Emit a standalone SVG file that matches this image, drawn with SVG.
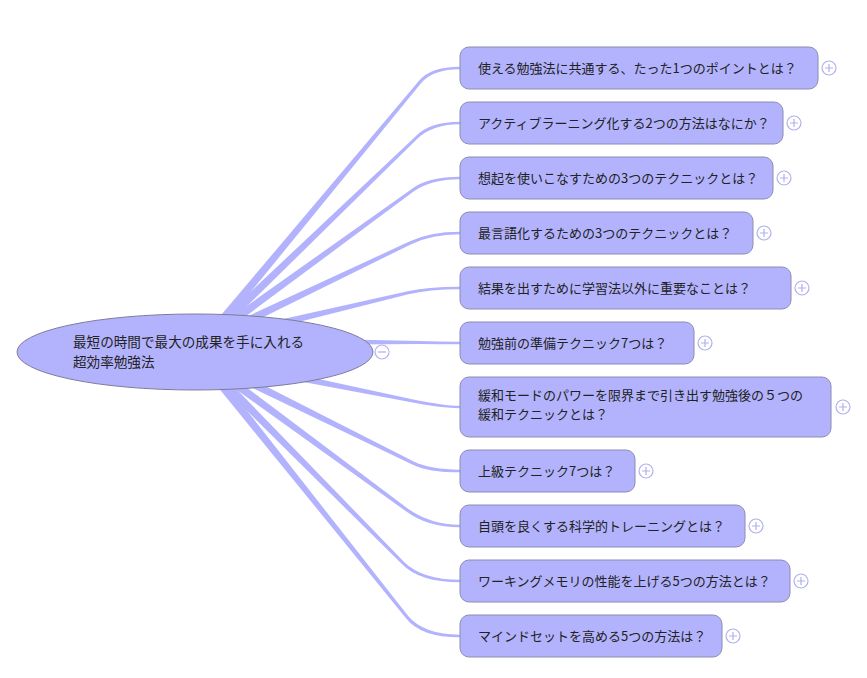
<svg xmlns="http://www.w3.org/2000/svg" width="867" height="678" viewBox="0 0 867 678">
<style>
.c{fill:#b3b3fd;stroke:none}
.n rect{fill:#b3b3fd;stroke:#8c8cb4;stroke-width:1}
.t{font-family:"Noto Sans CJK JP","Noto Sans",sans-serif;font-size:13px;fill:#222}
.rt{font-family:"Noto Sans CJK JP","Noto Sans",sans-serif;font-size:13.6px;fill:#222}
.tg circle{fill:#fff;stroke:#b0b0ee;stroke-width:1.2}
.tg path{stroke:#b0b0ee;stroke-width:1.2;fill:none}
</style>
<rect width="867" height="678" fill="#fff"/>
<g id="connectors">
<path class="c" d="M201.6,338.1 L418.8,81.1 Q430.1,66.7 460,66.7 L460,69.3 Q433.1,69.3 421.2,83 L208.4,343.9 Z"/>
<path class="c" d="M201.8,337.7 L416,135.9 Q430,121.7 460,121.7 L460,124.3 Q433,124.3 418.1,138.1 L208.2,344.3 Z"/>
<path class="c" d="M202.4,337.4 L412.1,188.7 Q428,176.7 460,176.7 L460,179.3 Q431,179.3 413.9,191.3 L207.6,344.6 Z"/>
<path class="c" d="M203,336.9 L409.3,241.6 Q429.4,231.7 460,231.7 L460,234.3 Q432.4,234.3 410.7,244.4 L207,345.1 Z"/>
<path class="c" d="M204,336.6 L406.6,291.5 Q426.5,286.7 460,286.7 L460,289.3 Q429.5,289.3 407.4,294.6 L206,345.4 Z"/>
<path class="c" d="M205,336.5 L420,341 Q440,341.7 460,341.7 L460,344.3 Q440,344.3 420,344 L205,345.5 Z"/>
<path class="c" d="M201,353.6 L413.3,399.4 Q444.2,405.7 460,405.7 L460,408.3 Q441.2,408.3 412.7,402.6 L199,362.4 Z"/>
<path class="c" d="M202,353.9 L413.7,461.6 Q430.7,469.7 460,469.7 L460,472.3 Q427.7,472.3 412.3,464.4 L198,362.1 Z"/>
<path class="c" d="M202.7,354.4 L408,508.8 Q430.3,524.7 460,524.7 L460,527.3 Q427.3,527.3 406,511.3 L197.3,361.6 Z"/>
<path class="c" d="M203.2,354.8 L404.1,561.9 Q422.3,579.7 460,579.7 L460,582.3 Q419.3,582.3 401.9,564.1 L196.8,361.2 Z"/>
<path class="c" d="M203.5,355.2 L408.2,616.1 Q423.7,634.7 460,634.7 L460,637.3 Q420.7,637.3 405.8,617.9 L196.5,360.8 Z"/>
</g>
<g id="root">
<ellipse cx="195" cy="352" rx="178" ry="38" fill="#b3b3fd" stroke="#7c7c9c" stroke-width="1"/>
<text class="rt" x="73" y="347">最短の時間で最大の成果を手に入れる</text>
<text class="rt" x="73" y="367">超効率勉強法</text>
<g class="tg"><circle cx="382" cy="352" r="7"/><path d="M378,352 H386"/></g>
</g>
<g id="n1" class="n"><rect x="460" y="47" width="358" height="42" rx="9"/><text class="t" x="478" y="73">使える勉強法に共通する、たった1つのポイントとは？</text><g class="tg"><circle cx="829" cy="68" r="7"/><path d="M825,68 H833 M829,64 V72"/></g></g>
<g id="n2" class="n"><rect x="460" y="102" width="323" height="42" rx="9"/><text class="t" x="478" y="128">アクティブラーニング化する2つの方法はなにか？</text><g class="tg"><circle cx="794" cy="123" r="7"/><path d="M790,123 H798 M794,119 V127"/></g></g>
<g id="n3" class="n"><rect x="460" y="157" width="313" height="42" rx="9"/><text class="t" x="478" y="183">想起を使いこなすための3つのテクニックとは？</text><g class="tg"><circle cx="784" cy="178" r="7"/><path d="M780,178 H788 M784,174 V182"/></g></g>
<g id="n4" class="n"><rect x="460" y="212" width="293" height="42" rx="9"/><text class="t" x="478" y="238">最言語化するための3つのテクニックとは？</text><g class="tg"><circle cx="764" cy="233" r="7"/><path d="M760,233 H768 M764,229 V237"/></g></g>
<g id="n5" class="n"><rect x="460" y="267" width="331" height="42" rx="9"/><text class="t" x="478" y="293">結果を出すために学習法以外に重要なことは？</text><g class="tg"><circle cx="802" cy="288" r="7"/><path d="M798,288 H806 M802,284 V292"/></g></g>
<g id="n6" class="n"><rect x="460" y="322" width="234" height="42" rx="9"/><text class="t" x="478" y="348">勉強前の準備テクニック7つは？</text><g class="tg"><circle cx="705" cy="343" r="7"/><path d="M701,343 H709 M705,339 V347"/></g></g>
<g id="n7" class="n"><rect x="460" y="377" width="371" height="60" rx="9"/><text class="t" x="478" y="399.5">緩和モードのパワーを限界まで引き出す勉強後の５つの</text><text class="t" x="478" y="418.5">緩和テクニックとは？</text><g class="tg"><circle cx="843" cy="407" r="7"/><path d="M839,407 H847 M843,403 V411"/></g></g>
<g id="n8" class="n"><rect x="460" y="450" width="175" height="42" rx="9"/><text class="t" x="478" y="476">上級テクニック7つは？</text><g class="tg"><circle cx="646" cy="471" r="7"/><path d="M642,471 H650 M646,467 V475"/></g></g>
<g id="n9" class="n"><rect x="460" y="505" width="285" height="42" rx="9"/><text class="t" x="478" y="531">自頭を良くする科学的トレーニングとは？</text><g class="tg"><circle cx="756" cy="526" r="7"/><path d="M752,526 H760 M756,522 V530"/></g></g>
<g id="n10" class="n"><rect x="460" y="560" width="330" height="42" rx="9"/><text class="t" x="478" y="586">ワーキングメモリの性能を上げる5つの方法とは？</text><g class="tg"><circle cx="801" cy="581" r="7"/><path d="M797,581 H805 M801,577 V585"/></g></g>
<g id="n11" class="n"><rect x="460" y="615" width="262" height="42" rx="9"/><text class="t" x="478" y="641">マインドセットを高める5つの方法は？</text><g class="tg"><circle cx="733" cy="636" r="7"/><path d="M729,636 H737 M733,632 V640"/></g></g>
</svg>
